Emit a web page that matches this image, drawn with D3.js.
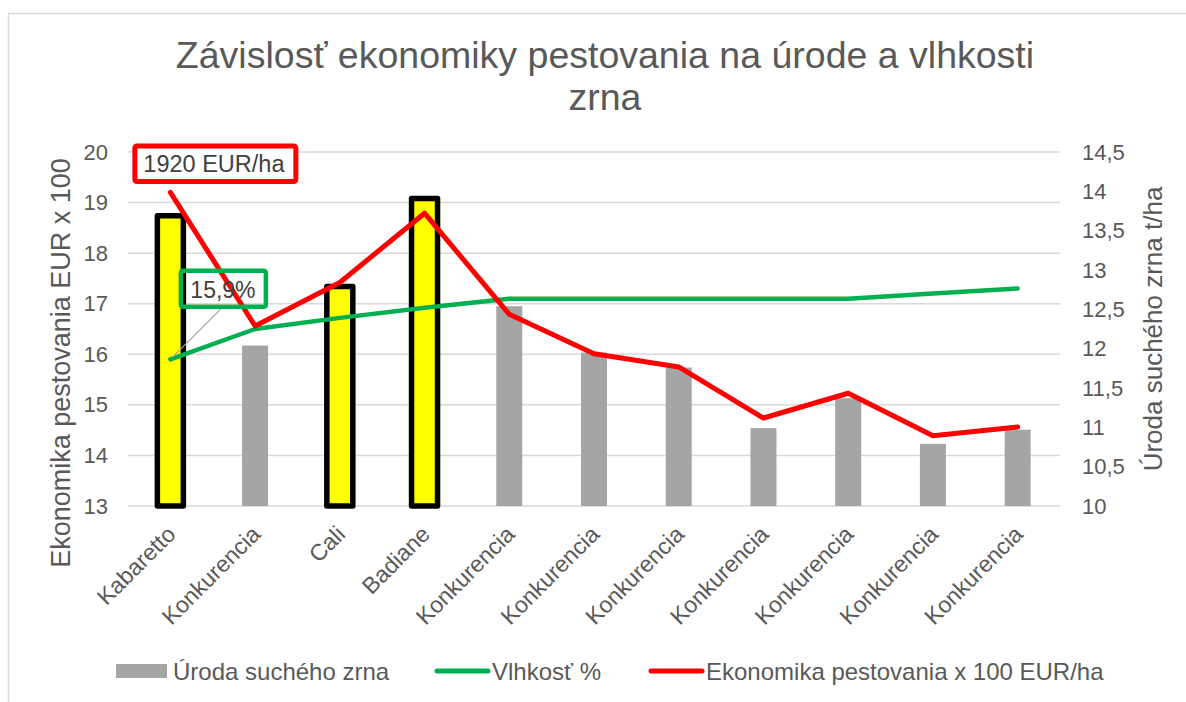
<!DOCTYPE html>
<html>
<head>
<meta charset="utf-8">
<script src="https://cdn.jsdelivr.net/npm/d3@7"></script>
<style>
  body { margin: 0; background: #fff; }
  svg { display: block; font-family: "Liberation Sans", Arial, sans-serif; }
</style>
</head>
<body>
<svg id="chart" width="1186" height="702"></svg>
<script>
const categories = ["Kabaretto", "Konkurencia", "Cali", "Badiane", "Konkurencia", "Konkurencia",
  "Konkurencia", "Konkurencia", "Konkurencia", "Konkurencia", "Konkurencia"];
const highlighted = [true, false, true, true, false, false, false, false, false, false, false];
// t/ha, right axis
const yieldValues = [13.69, 12.04, 12.79, 13.91, 12.54, 11.95, 11.76, 10.99, 11.37, 10.79, 10.97];
// %, left axis
const moistureValues = [15.9, 16.5, 16.72, 16.92, 17.1, 17.1, 17.1, 17.1, 17.1, 17.2, 17.3];
// EUR x 100, left axis
const economyValues = [19.2, 16.56, 17.42, 18.79, 16.79, 16.01, 15.75, 14.74, 15.23, 14.39, 14.56];
const leftTicks = [13, 14, 15, 16, 17, 18, 19, 20];
const rightTicks = [10, 10.5, 11, 11.5, 12, 12.5, 13, 13.5, 14, 14.5];
const titleLines = ["Závislosť ekonomiky pestovania na úrode a vlhkosti", "zrna"];
const legendItems = [
  { label: "Úroda suchého zrna", type: "bar", color: "#a5a5a5" },
  { label: "Vlhkosť %", type: "line", color: "#00b050" },
  { label: "Ekonomika pestovania x 100 EUR/ha", type: "line", color: "#ff0000" },
];

const textColor = "#595959";
const gridColor = "#d9d9d9";
const plot = { left: 128, right: 1060, top: 152, bottom: 506 };

const svg = d3.select("#chart");

// outer chart frame (cut by the screenshot)
svg.append("rect")
  .attr("x", 8.5).attr("y", 13.5)
  .attr("width", 1200).attr("height", 720)
  .attr("fill", "#fff")
  .attr("stroke", gridColor)
  .attr("stroke-width", 1.5);

const x = d3.scaleBand()
  .domain(d3.range(categories.length))
  .range([plot.left, plot.right]);

const yLeft = d3.scaleLinear().domain([13, 20]).range([plot.bottom, plot.top]);
const yRight = d3.scaleLinear().domain([10, 14.5]).range([plot.bottom, plot.top]);
const fmt = (d) => String(d).replace(".", ",");

/**
 * Title
 */
svg.append("text")
  .attr("text-anchor", "middle")
  .attr("fill", textColor)
  .style("font-size", "37.5px")
  .selectAll("tspan")
  .data(titleLines)
  .join("tspan")
  .attr("x", 605)
  .attr("y", (d, i) => 68 + i * 42)
  .text((d) => d);

/**
 * Grid and axes
 */
svg.append("g")
  .selectAll("line")
  .data(leftTicks)
  .join("line")
  .attr("x1", plot.left).attr("x2", plot.right)
  .attr("y1", (d) => yLeft(d)).attr("y2", (d) => yLeft(d))
  .attr("stroke", gridColor)
  .attr("stroke-width", 1.5);

const leftAxis = svg.append("g")
  .attr("transform", `translate(${plot.left - 20},0)`)
  .call(d3.axisLeft(yLeft).tickValues(leftTicks).tickSize(0).tickPadding(0).tickFormat(fmt));
leftAxis.select(".domain").remove();

const rightAxis = svg.append("g")
  .attr("transform", `translate(${plot.right + 22},0)`)
  .call(d3.axisRight(yRight).tickValues(rightTicks).tickSize(0).tickPadding(0).tickFormat(fmt));
rightAxis.select(".domain").remove();

svg.selectAll(".tick text")
  .attr("fill", textColor)
  .style("font-size", "22px")
  .style("font-family", "'Liberation Sans', Arial, sans-serif");

svg.append("text")
  .attr("transform", `translate(70,${(plot.top + plot.bottom) / 2 + 34}) rotate(-90)`)
  .attr("text-anchor", "middle")
  .attr("fill", textColor)
  .style("font-size", "27px")
  .text("Ekonomika pestovania EUR x 100");

svg.append("text")
  .attr("transform", `translate(1162,${(plot.top + plot.bottom) / 2}) rotate(-90)`)
  .attr("text-anchor", "middle")
  .attr("fill", textColor)
  .style("font-size", "26px")
  .text("Úroda suchého zrna t/ha");

svg.append("g")
  .selectAll("text")
  .data(categories)
  .join("text")
  .attr("transform", (d, i) => `translate(${x(i) + x.bandwidth() / 2 + 1},${plot.bottom + 24}) rotate(-45)`)
  .attr("text-anchor", "end")
  .attr("dy", "0.35em")
  .attr("fill", textColor)
  .style("font-size", "23px")
  .text((d) => d);

/**
 * Bars
 */
const barWidth = 26;
svg.append("g")
  .selectAll("rect")
  .data(yieldValues)
  .join("rect")
  .attr("x", (d, i) => x(i) + x.bandwidth() / 2 - barWidth / 2)
  .attr("y", (d) => yRight(d))
  .attr("width", barWidth)
  .attr("height", (d) => yRight(10) - yRight(d))
  .attr("fill", (d, i) => highlighted[i] ? "#ffff00" : "#a5a5a5")
  .attr("stroke", (d, i) => highlighted[i] ? "#000" : "none")
  .attr("stroke-width", 5.5)
  .attr("stroke-linejoin", "round");

/**
 * Lines
 */
const line = d3.line()
  .x((d, i) => x(i) + x.bandwidth() / 2)
  .y((d) => yLeft(d));

svg.append("path")
  .datum(moistureValues)
  .attr("d", line)
  .attr("fill", "none")
  .attr("stroke", "#00b050")
  .attr("stroke-width", 4.5)
  .attr("stroke-linecap", "round")
  .attr("stroke-linejoin", "round");

svg.append("path")
  .datum(economyValues)
  .attr("d", line)
  .attr("fill", "none")
  .attr("stroke", "#ff0000")
  .attr("stroke-width", 5)
  .attr("stroke-linecap", "round")
  .attr("stroke-linejoin", "round");

/**
 * Data labels
 */
const x0 = x(0) + x.bandwidth() / 2;
const redY = yLeft(economyValues[0]);
const greenY = yLeft(moistureValues[0]);

svg.append("line")
  .attr("x1", x0 + 2).attr("y1", greenY - 2)
  .attr("x2", x0 + 51).attr("y2", greenY - 51)
  .attr("stroke", "#a6a6a6")
  .attr("stroke-width", 1.2);

svg.append("rect")
  .attr("x", x0 - 35.5).attr("y", redY - 46.5)
  .attr("width", 161).attr("height", 35.5)
  .attr("rx", 2)
  .attr("fill", "#fff")
  .attr("stroke", "#ff0000")
  .attr("stroke-width", 5);
svg.append("text")
  .attr("x", x0 - 27).attr("y", redY - 20)
  .attr("fill", "#404040")
  .style("font-size", "23.5px")
  .text(`${economyValues[0] * 100} EUR/ha`);

svg.append("rect")
  .attr("x", x0 + 10.5).attr("y", greenY - 88.5)
  .attr("width", 85).attr("height", 36)
  .attr("rx", 2)
  .attr("fill", "none")
  .attr("stroke", "#00b050")
  .attr("stroke-width", 4.5);
svg.append("text")
  .attr("x", x0 + 20).attr("y", greenY - 61)
  .attr("fill", "#404040")
  .style("font-size", "23px")
  .text(`${fmt(moistureValues[0])}%`);

/**
 * Legend
 */
const legendY = 671;
const legendX = [116, 435, 649];
const legendG = svg.append("g")
  .selectAll("g")
  .data(legendItems)
  .join("g")
  .attr("transform", (d, i) => `translate(${legendX[i]},${legendY})`);

legendG.filter((d) => d.type === "bar")
  .append("rect")
  .attr("x", 0).attr("y", -7)
  .attr("width", 51).attr("height", 14)
  .attr("fill", (d) => d.color);

legendG.filter((d) => d.type === "line")
  .append("line")
  .attr("x1", 2).attr("x2", 53)
  .attr("stroke", (d) => d.color)
  .attr("stroke-width", 5)
  .attr("stroke-linecap", "round");

legendG.append("text")
  .attr("x", 57)
  .attr("dy", "0.36em")
  .attr("fill", textColor)
  .style("font-size", "24px")
  .text((d) => d.label);
</script>
</body>
</html>
